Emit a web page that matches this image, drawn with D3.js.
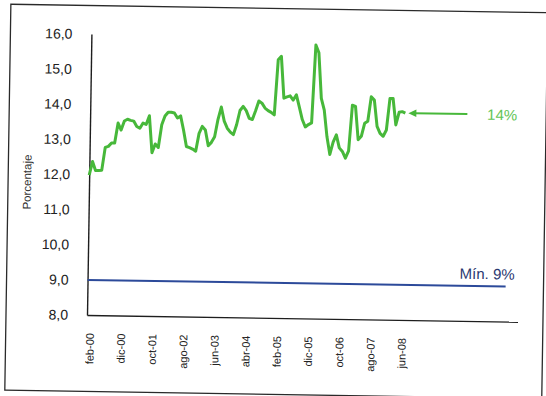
<!DOCTYPE html>
<html>
<head>
<meta charset="utf-8">
<script src="https://cdn.jsdelivr.net/npm/d3@7"></script>
<style>
  html, body { margin: 0; padding: 0; background: #ffffff; }
  svg { display: block; }
  text { font-family: "Liberation Sans", Arial, sans-serif; }
</style>
</head>
<body>
<svg id="chart" width="546" height="396"></svg>
<script>
// Monthly series, feb-00 .. jul-08 (percent)
const rateValues = [
  11.98, 12.37, 12.12, 12.12, 12.13, 12.78, 12.81, 12.91, 12.91, 13.48,
  13.28, 13.54, 13.59, 13.56, 13.54, 13.39, 13.34, 13.49, 13.45, 13.70,
  12.65, 12.90, 12.80, 13.45, 13.70, 13.81, 13.81, 13.79, 13.65, 13.71,
  13.31, 12.84, 12.81, 12.77, 12.71, 13.22, 13.42, 13.32, 12.87, 12.97,
  13.13, 13.63, 13.98, 13.58, 13.38, 13.27, 13.20, 13.49, 13.89, 14.01,
  13.89, 13.67, 13.64, 13.89, 14.17, 14.11, 13.97, 13.90, 13.85, 13.78,
  15.35, 15.45, 14.26, 14.30, 14.33, 14.21, 14.36, 14.01, 13.66, 13.45,
  13.52, 13.57, 15.79, 15.57, 14.27, 13.94, 13.18, 12.68, 13.03, 13.24,
  12.87, 12.77, 12.58, 12.79, 14.09, 14.06, 13.11, 13.21, 13.58, 13.64,
  14.34, 14.25, 13.50, 13.30, 13.22, 13.40, 14.30, 14.30, 13.55, 13.91,
  13.93, 13.89
];

// Minimum reference level and how many months it spans
const minimumLevel = 9;
const minimumMonths = 135;

// Month abbreviations and the category axis (feb-00 onwards)
const monthNames = ["ene", "feb", "mar", "abr", "may", "jun", "jul", "ago", "sep", "oct", "nov", "dic"];
const categoryCount = 139;
const categories = d3.range(categoryCount).map(i => {
  const m = (1 + i) % 12;
  const yr = 2000 + Math.floor((1 + i) / 12);
  return monthNames[m] + "-" + String(yr % 100).padStart(2, "0");
});

// Labelled ticks on the category axis
const tickLabels = ["feb-00", "dic-00", "oct-01", "ago-02", "jun-03", "abr-04",
                    "feb-05", "dic-05", "oct-06", "ago-07", "jun-08"];
const yTicks = [8, 9, 10, 11, 12, 13, 14, 15, 16];

const annotationText = "14%";
const minimumText = "Mín. 9%";
const yTitle = "Porcentaje";

const svg = d3.select("#chart");
// the whole sheet sits at a slight tilt
const root = svg.append("g").attr("transform", "rotate(0.9, 87, 315)");

root.append("rect")
  .attr("x", 6).attr("y", 5.5)
  .attr("width", 537).attr("height", 386)
  .attr("fill", "#ffffff")
  .attr("stroke", "#2a2a2a").attr("stroke-width", 1.3);

const x = d3.scalePoint().domain(categories).range([87, 517.6]);
const y = d3.scaleLinear().domain([8, 16]).range([315, 34]);

// y axis
const yAxis = root.append("g")
  .attr("transform", "translate(87,0)")
  .call(d3.axisLeft(y).tickValues(yTicks).tickSize(0).tickSizeOuter(0).tickPadding(19)
    .tickFormat(d => d.toFixed(1).replace(".", ",")));
yAxis.select(".domain").attr("stroke", "#1e1e1e").attr("stroke-width", 1.4);
yAxis.selectAll("text").attr("font-size", 14).attr("fill", "#222").style("font-family", "Liberation Sans, Arial, sans-serif");

// x axis
const xAxis = root.append("g")
  .attr("transform", "translate(0,315)")
  .call(d3.axisBottom(x).tickValues(tickLabels).tickSize(0).tickSizeOuter(0));
xAxis.select(".domain").attr("stroke", "#1e1e1e").attr("stroke-width", 1.4);
xAxis.selectAll("text")
  .attr("transform", "rotate(-90)")
  .attr("text-anchor", "end")
  .attr("x", -18).attr("y", 0).attr("dy", "0.6em")
  .attr("font-size", 11).attr("fill", "#222")
  .style("font-family", "Liberation Sans, Arial, sans-serif");

// axis title
root.append("text")
  .attr("transform", `translate(29,183) rotate(-90)`)
  .attr("text-anchor", "middle")
  .attr("font-size", 11.5).attr("fill", "#333")
  .text(yTitle);

// minimum level line
const minLine = d3.line().x(d => x(categories[d])).y(() => y(minimumLevel));
root.append("path")
  .datum([0, minimumMonths - 1])
  .attr("d", minLine)
  .attr("fill", "none").attr("stroke", "#2c4a9a").attr("stroke-width", 2);

root.append("text")
  .attr("x", 514).attr("y", y(minimumLevel) - 7)
  .attr("text-anchor", "end")
  .attr("font-size", 15).attr("fill", "#2a3870")
  .text(minimumText);

// rate series
const line = d3.line().x((d, i) => x(categories[i])).y(d => y(d));
root.append("path")
  .datum(rateValues)
  .attr("d", line)
  .attr("fill", "none").attr("stroke", "#47b83a")
  .attr("stroke-width", 3).attr("stroke-linejoin", "round");

// arrow to the latest value
const lastIdx = rateValues.length - 1;
const ay = y(rateValues[lastIdx]);
const tipX = x(categories[lastIdx]) + 3;
root.append("line")
  .attr("x1", tipX + 6).attr("x2", tipX + 59)
  .attr("y1", ay).attr("y2", ay)
  .attr("stroke", "#47b83a").attr("stroke-width", 2);
root.append("path")
  .attr("d", `M${tipX},${ay} L${tipX + 8},${ay - 3.8} L${tipX + 8},${ay + 3.8} Z`)
  .attr("fill", "#47b83a");

root.append("text")
  .attr("x", 514).attr("y", ay + 5.5)
  .attr("text-anchor", "end")
  .attr("font-size", 15).attr("fill", "#62c455")
  .text(annotationText);
</script>
</body>
</html>
